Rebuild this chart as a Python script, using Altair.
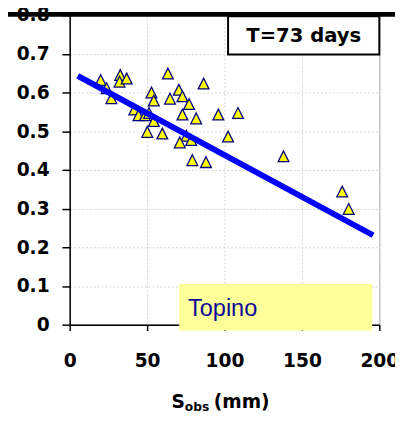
import altair as alt
import pandas as pd

s_obs = [20.0, 23.8, 32.6, 32.2, 36.8, 26.9, 63.4, 86.5, 52.8, 70.5, 72.8, 54.3,
         64.8, 77.1, 41.7, 44.4, 48.6, 51.2, 72.8, 81.7, 96.0, 108.7, 54.3, 50.1,
         59.8, 75.4, 71.1, 78.5, 102.3, 79.2, 88.0, 138.1, 176.0, 180.2]
ratio = [0.632, 0.611, 0.645, 0.628, 0.636, 0.585, 0.649, 0.623, 0.600, 0.607, 0.590, 0.579,
         0.584, 0.570, 0.556, 0.541, 0.541, 0.547, 0.543, 0.533, 0.543, 0.547, 0.526, 0.498,
         0.494, 0.488, 0.471, 0.477, 0.486, 0.425, 0.420, 0.435, 0.344, 0.299]

# Fitted straight line (end points)
fit_x = [5.2, 196.0]
fit_y = [0.643, 0.231]

x_ticks = [0, 50, 100, 150, 200]
y_ticks = [0, 0.1, 0.2, 0.3, 0.4, 0.5, 0.6, 0.7, 0.8]

# Annotation boxes (data units)
tbox_label = ["T=73 days"]
tbox_x = [102.3, 200.0]
tbox_y = [0.698, 0.797]
tbox_text_pos = [151.2, 0.731]
river_label = ["Topino"]
river_x = [70.7, 195.4]
river_y = [-0.015, 0.105]
river_text_pos = [76.4, 0.023]

pts = pd.DataFrame({"S": s_obs, "R": ratio})
fit = pd.DataFrame({"S": fit_x, "R": fit_y})
tbox = pd.DataFrame({"S": [tbox_x[0]], "S2": [tbox_x[1]], "R": [tbox_y[0]], "R2": [tbox_y[1]],
                     "tx": [tbox_text_pos[0]], "ty": [tbox_text_pos[1]], "t": tbox_label})
rbox = pd.DataFrame({"S": [river_x[0]], "S2": [river_x[1]], "R": [river_y[0]], "R2": [river_y[1]],
                     "tx": [river_text_pos[0]], "ty": [river_text_pos[1]], "t": river_label})
one = pd.DataFrame({"k": [0]})

FONT = "DejaVu Sans"

xscale = alt.Scale(domain=[0, 200], nice=False, zero=False)
yscale = alt.Scale(domain=[0, 0.8], nice=False, zero=False)

xaxis = alt.Axis(values=x_ticks, title=None, tickSize=6, labelPadding=21.5,
                 grid=True, gridColor="#d4d4d4", gridDash=[2, 2], gridWidth=1,
                 domainColor="black", domainWidth=1.5, tickColor="black", tickWidth=1.5,
                 labelFont=FONT, labelFontWeight="bold", labelFontSize=19, labelColor="black",
                 labelFlush=False, labelOverlap=False, zindex=0)
yaxis = alt.Axis(values=y_ticks, title=None, tickSize=8, labelPadding=13, format=".1~f",
                 grid=True, gridColor="#d4d4d4", gridDash=[2, 2], gridWidth=1,
                 domainColor="black", domainWidth=1.5, tickColor="black", tickWidth=1.5,
                 labelFont=FONT, labelFontWeight="bold", labelFontSize=19, labelColor="black",
                 labelFlush=False, labelOverlap=False, zindex=0)


def qx(field):
    return alt.X(field, scale=xscale, axis=xaxis, title=None)


def qy(field):
    return alt.Y(field, scale=yscale, axis=yaxis, title=None)


points = alt.Chart(pts).mark_point(
    shape="M0,-1L1,1L-1,1Z", size=121, filled=True, fill="#FFFF00", stroke="#000080",
    strokeWidth=1.3, opacity=1, fillOpacity=1, strokeOpacity=1
).encode(x=qx("S:Q"), y=qy("R:Q"))

line = alt.Chart(fit).mark_line(color="#0000FF", strokeWidth=6, strokeCap="butt").encode(
    x=qx("S:Q"), y=qy("R:Q"))

tb_rect = alt.Chart(tbox).mark_rect(fill="white", stroke="black", strokeWidth=2).encode(
    x=qx("S:Q"), x2="S2:Q", y=qy("R:Q"), y2="R2:Q")
tb_text = alt.Chart(tbox).mark_text(align="center", baseline="alphabetic", font=FONT,
                                    fontWeight="bold", fontSize=20, color="black").encode(
    x=qx("tx:Q"), y=qy("ty:Q"), text="t:N")

rv_rect = alt.Chart(rbox).mark_rect(fill="#FFFF99", strokeWidth=0).encode(
    x=qx("S:Q"), x2="S2:Q", y=qy("R:Q"), y2="R2:Q")
rv_text = alt.Chart(rbox).mark_text(align="left", baseline="alphabetic", font="Liberation Sans",
                                    fontSize=24, color="#0a0a96").encode(
    x=qx("tx:Q"), y=qy("ty:Q"), text="t:N")

band = alt.Chart(one).mark_rule(color="black", strokeWidth=4.7).encode(
    x=alt.value(-63), x2=alt.value(332), y=alt.value(-0.65))

t_s = alt.Chart(one).mark_text(align="left", baseline="alphabetic", font=FONT, fontWeight="bold",
                               fontSize=19, color="black").encode(
    x=alt.value(104), y=alt.value(401), text=alt.value("S"))
t_obs = alt.Chart(one).mark_text(align="left", baseline="alphabetic", font=FONT, fontWeight="bold",
                                 fontSize=12.5, color="black").encode(
    x=alt.value(117.5), y=alt.value(404.5), text=alt.value("obs"))
t_mm = alt.Chart(one).mark_text(align="left", baseline="alphabetic", font=FONT, fontWeight="bold",
                                fontSize=19, color="black").encode(
    x=alt.value(147), y=alt.value(401), text=alt.value("(mm)"))

chart = alt.layer(points, line, tb_rect, tb_text, rv_rect, rv_text, band, t_s, t_obs, t_mm).properties(
    width=316, height=316,
    autosize=alt.AutoSizeParams(type="none"),
    padding={"left": 63, "top": 3, "right": 16, "bottom": 88},
    background="white",
).configure_view(stroke="#a0a0a0", strokeWidth=1)

chart.save("out.html", embed_options={"renderer": "svg", "actions": False})
